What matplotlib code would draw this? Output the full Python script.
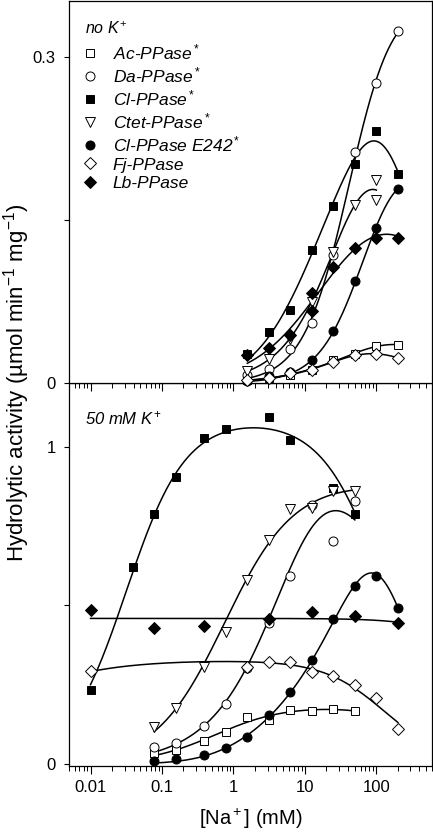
import numpy as np
import matplotlib
matplotlib.use('Agg')
import matplotlib.pyplot as plt

plt.rcParams['font.family'] = ['Liberation Sans', 'DejaVu Sans']
plt.rcParams['mathtext.fontset'] = 'custom'
plt.rcParams['mathtext.rm'] = 'Liberation Sans'
plt.rcParams['mathtext.it'] = 'Liberation Sans:italic'

# ---- data ----
# upper panel, no K+
ac_top_x = [1.5625, 3.125, 6.25, 12.5, 25, 50, 100, 200]
ac_top_y = [0.003, 0.005, 0.007, 0.012, 0.021, 0.027, 0.034, 0.035]
da_top_x = [1.5625, 3.125, 6.25, 12.5, 25, 50, 100, 200]
da_top_y = [0.007, 0.013, 0.031, 0.055, 0.118, 0.213, 0.276, 0.324]
cl_top_x = [1.5625, 3.125, 6.25, 12.5, 25, 50, 100, 200]
cl_top_y = [0.027, 0.047, 0.067, 0.123, 0.163, 0.202, 0.232, 0.193]
ctet_top_x = [1.5625, 3.125, 6.25, 12.5, 25, 50, 100, 100]
ctet_top_y = [0.011, 0.022, 0.041, 0.075, 0.121, 0.164, 0.169, 0.187]
e242_top_x = [1.5625, 3.125, 6.25, 12.5, 25, 50, 100, 200]
e242_top_y = [0.002, 0.006, 0.010, 0.021, 0.048, 0.094, 0.143, 0.179]
fj_top_x = [1.5625, 3.125, 6.25, 12.5, 25, 50, 100, 200]
fj_top_y = [0.003, 0.005, 0.009, 0.012, 0.019, 0.026, 0.027, 0.023]
lb_top_x = [1.5625, 3.125, 6.25, 12.5, 12.5, 25, 50, 100, 200]
lb_top_y = [0.026, 0.032, 0.044, 0.066, 0.083, 0.107, 0.124, 0.134, 0.134]

# lower panel, 50 mM K+
ac_low_x = [0.078, 0.156, 0.39, 0.78, 1.5625, 3.125, 6.25, 12.5, 25, 50]
ac_low_y = [0.034, 0.044, 0.074, 0.102, 0.147, 0.139, 0.170, 0.167, 0.173, 0.168]
da_low_x = [0.078, 0.156, 0.39, 0.78, 1.5625, 3.125, 6.25, 12.5, 25, 50]
da_low_y = [0.055, 0.067, 0.120, 0.189, 0.302, 0.444, 0.591, 0.817, 0.703, 0.830]
cl_low_x = [0.01, 0.039, 0.078, 0.156, 0.39, 0.78, 3.125, 6.25, 25, 50]
cl_low_y = [0.233, 0.621, 0.788, 0.904, 1.026, 1.056, 1.092, 1.022, 0.870, 0.786]
ctet_low_x = [0.078, 0.156, 0.39, 0.78, 1.5625, 3.125, 6.25, 12.5, 25, 50]
ctet_low_y = [0.118, 0.176, 0.307, 0.417, 0.580, 0.707, 0.803, 0.806, 0.859, 0.859]
e242_low_x = [0.078, 0.156, 0.39, 0.78, 1.5625, 3.125, 6.25, 12.5, 25, 50, 100, 200]
e242_low_y = [0.010, 0.015, 0.028, 0.050, 0.086, 0.155, 0.226, 0.328, 0.456, 0.562, 0.593, 0.491]
fj_low_x = [0.01, 1.5625, 3.125, 6.25, 12.5, 25, 50, 100, 200]
fj_low_y = [0.294, 0.305, 0.320, 0.320, 0.291, 0.278, 0.249, 0.209, 0.110]
lb_low_x = [0.01, 0.078, 0.39, 3.125, 12.5, 50, 200]
lb_low_y = [0.486, 0.428, 0.436, 0.456, 0.480, 0.465, 0.444]

labels = ['Ac-PPase$^*$', 'Da-PPase$^*$', 'Cl-PPase$^*$', 'Ctet-PPase$^*$',
          'Cl-PPase E242$^*$', 'Fj-PPase', 'Lb-PPase']
markers = ['s', 'o', 's', 'v', 'o', 'D', 'D']
filled = [False, False, True, False, True, False, True]
sizes = [5.5, 6.5, 5.5, 6.5, 6.5, 6, 6]


def fit_curve(x, y):
    # Vmax * x^n/(K^n + x^n) / (1 + (x/Ki)^m), grid search over K, n, Ki, m
    x = np.asarray(x, float)
    y = np.asarray(y, float)
    lx = np.log10(x)[None, None, None, None, :]
    logk = np.linspace(-4, 3.5, 61)[:, None, None, None, None]
    n = np.linspace(0.6, 3.0, 17)[None, :, None, None, None]
    logki = np.append(np.linspace(-1, 4, 41), np.inf)[None, None, :, None, None]
    m = np.array([1.0, 2.0])[None, None, None, :, None]
    f = 1 / (1 + 10 ** (n * (logk - lx))) / (1 + 10 ** (m * (lx - logki)))
    b = (f * y).sum(-1) / (f * f).sum(-1)
    sse = ((b[..., None] * f - y) ** 2).sum(-1)
    # prefer the plain hyperbolic inhibition unless the steeper one is much better
    sse = sse * np.where(m[..., 0] > 1, 2.2, 1.0)
    i, j, k, q = np.unravel_index(np.argmin(sse), sse.shape)
    K, N = logk[i, 0, 0, 0, 0], n[0, j, 0, 0, 0]
    KI, M, B = logki[0, 0, k, 0, 0], m[0, 0, 0, q, 0], b[i, j, k, q]
    xs = np.logspace(np.log10(x.min()), np.log10(x.max()), 300)
    ls = np.log10(xs)
    ys = B / (1 + 10 ** (N * (K - ls))) / (1 + 10 ** (M * (ls - KI)))
    return xs, ys


fig = plt.figure(figsize=(4.33, 8.33), dpi=100)
ax1 = fig.add_axes([69 / 433, 1 - 383 / 833, 363 / 433, 382 / 833])
ax2 = fig.add_axes([69 / 433, 1 - 766 / 833, 363 / 433, 383 / 833])
ax1.set_zorder(3)

top = [(ac_top_x, ac_top_y), (da_top_x, da_top_y), (cl_top_x, cl_top_y),
       (ctet_top_x, ctet_top_y), (e242_top_x, e242_top_y), (fj_top_x, fj_top_y),
       (lb_top_x, lb_top_y)]
low = [(ac_low_x, ac_low_y), (da_low_x, da_low_y), (cl_low_x, cl_low_y),
       (ctet_low_x, ctet_low_y), (e242_low_x, e242_low_y), (fj_low_x, fj_low_y),
       (lb_low_x, lb_low_y)]

for ax, series in [(ax1, top), (ax2, low)]:
    for i, (x, y) in enumerate(series):
        xs, ys = fit_curve(x, y)
        ax.plot(xs, ys, color='black', lw=1.1, zorder=2)
    for i, (x, y) in enumerate(series):
        ax.plot(x, y, ls='none', marker=markers[i], ms=sizes[i],
                mfc='black' if filled[i] else 'white', mec='black', mew=0.7,
                label=labels[i], clip_on=False, zorder=3)

for ax in (ax1, ax2):
    ax.set_xscale('log')
    ax.set_xlim(0.005, 600)
    for sp in ax.spines.values():
        sp.set_linewidth(0.9)
    ax.tick_params(axis='x', which='major', direction='out', length=6, width=0.8,
                   labelsize=12, top=False, pad=4)
    ax.tick_params(axis='x', which='minor', direction='out', length=3.5, width=0.7, top=False)
    ax.tick_params(axis='y', which='major', direction='out', length=3.5, width=0.8,
                   labelsize=12, right=False, pad=6)

ax1.tick_params(axis='x', which='both', labelbottom=False)
ax2.set_xticks([0.01, 0.1, 1, 10, 100])
ax2.set_xticklabels(['0.01', '0.1', '1', '10', '100'])

ax1.set_ylim(0, 0.352)
ax1.set_yticks([0, 0.15, 0.3])
ax1.set_yticklabels(['0', '', '0.3'])
ax2.set_ylim(-0.006, 1.2)
ax2.set_yticks([0, 0.5, 1])
ax2.set_yticklabels(['0', '', '1'])

ax1.text(0.044, 0.927, 'no K$^+$', transform=ax1.transAxes, fontsize=11.5,
         style='italic', va='center', ha='left')
ax2.text(0.044, 0.909, '50 mM K$^+$', transform=ax2.transAxes, fontsize=12,
         style='italic', va='center', ha='left')

leg = ax1.legend(loc='upper left', bbox_to_anchor=(0.037, 0.892), frameon=False,
                 borderaxespad=0, borderpad=0, handlelength=0.9, handletextpad=0.85,
                 labelspacing=0.18, prop={'size': 12.5, 'style': 'italic'})

ax2.set_xlabel('[Na$^+$] (mM)', fontsize=14.5, labelpad=9)
fig.text(0.039, 0.541, 'Hydrolytic activity (\u00b5mol min$^{-1}$ mg$^{-1}$)',
         rotation=90, va='center', ha='center', fontsize=16)

fig.savefig('out.png', dpi=100)
